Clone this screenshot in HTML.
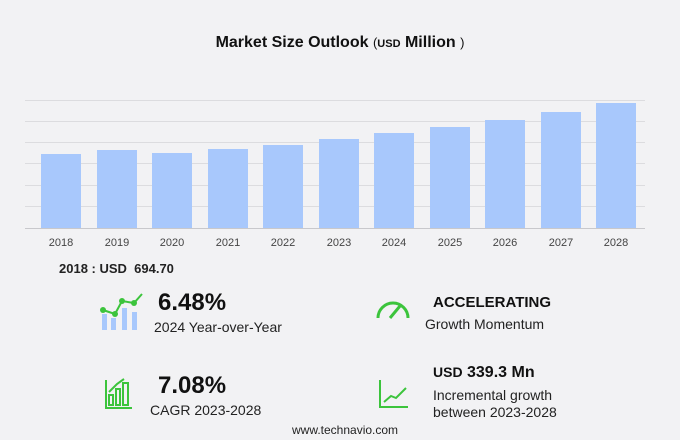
<!DOCTYPE html>
<html><head><style>
body{margin:0;width:680px;height:440px;background:#f2f2f4;font-family:"Liberation Sans",sans-serif;position:relative;overflow:hidden}
.a{position:absolute;white-space:nowrap;color:#222}
</style></head><body>
<div class="a" style="left:0;width:680px;top:34px;text-align:center;font-size:16px;font-weight:bold;color:#111">Market Size Outlook <span style="font-weight:normal;font-size:13px">(</span><span style="font-size:11px">USD</span> Million <span style="font-weight:normal;font-size:13px">)</span></div>
<svg width="680" height="260" style="position:absolute;left:0;top:0">
<g stroke="#dcdcdf" stroke-width="1">
<line x1="25" x2="645" y1="100.5" y2="100.5"/><line x1="25" x2="645" y1="121.5" y2="121.5"/><line x1="25" x2="645" y1="142.5" y2="142.5"/><line x1="25" x2="645" y1="163.5" y2="163.5"/><line x1="25" x2="645" y1="185.5" y2="185.5"/><line x1="25" x2="645" y1="206.5" y2="206.5"/></g>
<line x1="25" x2="645" y1="228.5" y2="228.5" stroke="#c8c8cc"/>
<g fill="#a8c8fc">
<rect x="41" y="154" width="40" height="74"/><rect x="97" y="150" width="40" height="78"/><rect x="152" y="153" width="40" height="75"/><rect x="208" y="149" width="40" height="79"/><rect x="263" y="145" width="40" height="83"/><rect x="319" y="139" width="40" height="89"/><rect x="374" y="133" width="40" height="95"/><rect x="430" y="127" width="40" height="101"/><rect x="485" y="120" width="40" height="108"/><rect x="541" y="112" width="40" height="116"/><rect x="596" y="103" width="40" height="125"/></g>
<g font-size="11" fill="#444" text-anchor="middle" font-family="Liberation Sans">
<text x="61" y="246">2018</text><text x="117" y="246">2019</text><text x="172" y="246">2020</text><text x="228" y="246">2021</text><text x="283" y="246">2022</text><text x="339" y="246">2023</text><text x="394" y="246">2024</text><text x="450" y="246">2025</text><text x="505" y="246">2026</text><text x="561" y="246">2027</text><text x="616" y="246">2028</text></g>
</svg>
<div class="a" style="left:59px;top:261px;font-size:13px;font-weight:bold">2018 : USD &nbsp;694.70</div>
<svg width="680" height="440" style="position:absolute;left:0;top:0">
<g fill="#a8c8fc"><rect x="102" y="314" width="5" height="16"/><rect x="111" y="318" width="5" height="12"/><rect x="122" y="308" width="5" height="22"/><rect x="132" y="312" width="5" height="18"/></g>
<polyline points="103,310 115,314 122,301 134,303 142,294" fill="none" stroke="#3cc43c" stroke-width="2"/>
<g fill="#3cc43c"><circle cx="103" cy="310" r="3"/><circle cx="115" cy="314" r="3"/><circle cx="122" cy="301" r="3"/><circle cx="134" cy="303" r="3"/></g>
<path d="M378,318 A15,15 0 0 1 408,318" fill="none" stroke="#3cc43c" stroke-width="3"/>
<line x1="390" y1="318" x2="400" y2="306" stroke="#3cc43c" stroke-width="3"/>
<g fill="none" stroke="#3cc43c" stroke-width="2"><path d="M106,380 V408 H132"/><rect x="109" y="395" width="4" height="10"/><rect x="116" y="389" width="4" height="16"/><rect x="123" y="383" width="5" height="22"/><polyline points="109,392 117,384 124,379"/></g>
<g fill="none" stroke="#3cc43c" stroke-width="2"><path d="M380,380 V407 H408"/><polyline points="384,402 391,396 396,398 406,388"/></g>
</svg>
<div class="a" style="left:158px;top:289px;font-size:24px;font-weight:bold;color:#111">6.48%</div>
<div class="a" style="left:154px;top:319px;font-size:14px">2024 Year-over-Year</div>
<div class="a" style="left:433px;top:294px;font-size:15px;font-weight:bold;color:#111">ACCELERATING</div>
<div class="a" style="left:425px;top:316px;font-size:14px">Growth Momentum</div>
<div class="a" style="left:158px;top:372px;font-size:24px;font-weight:bold;color:#111">7.08%</div>
<div class="a" style="left:150px;top:402px;font-size:14px">CAGR 2023-2028</div>
<div class="a" style="left:433px;top:364px;font-size:16px;font-weight:bold;color:#111"><span style="font-size:14px">USD</span> 339.3 Mn</div>
<div class="a" style="left:433px;top:387px;font-size:14px;line-height:17px">Incremental growth<br>between 2023-2028</div>
<div class="a" style="left:292px;top:423px;font-size:12px">www.technavio.com</div>
</body></html>
